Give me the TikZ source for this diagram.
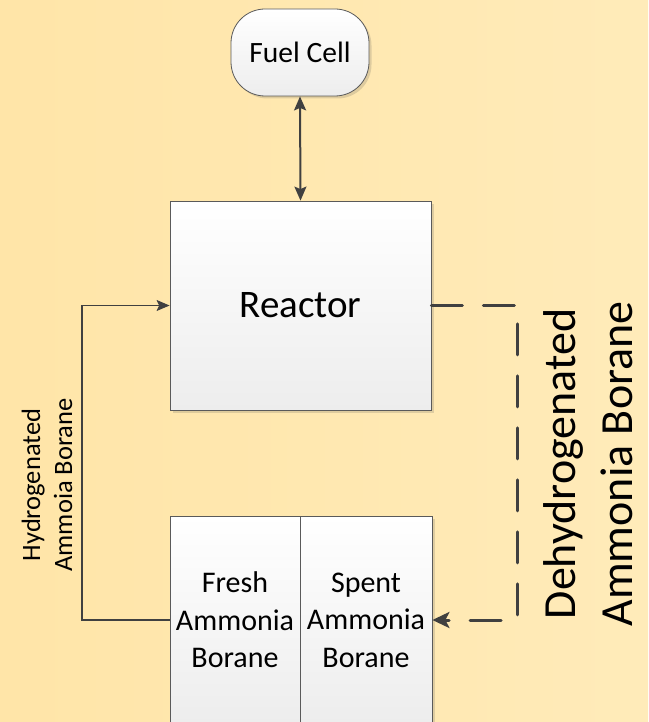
\documentclass[tikz,border=0pt]{standalone}
\usepackage{fontspec}
\setmainfont{Carlito}
\usetikzlibrary{arrows.meta,shadows}
\definecolor{bgA}{HTML}{FFE5A8}
\definecolor{bgB}{HTML}{FFEBB9}
\definecolor{edge}{HTML}{5A5A5A}
\definecolor{conn}{HTML}{404040}
\definecolor{boxlow}{HTML}{EDEDED}
\tikzset{
  blockbox/.style={draw=edge, line width=0.8pt, top color=white, bottom color=boxlow,
    inner sep=0pt, align=center,
    drop shadow={shadow xshift=2.5pt, shadow yshift=-2.5pt, opacity=0.18, fill=black!70}},
  thinconn/.style={draw=conn, line width=1.2pt, -{Stealth[length=13pt,width=11pt,inset=2.5pt]}},
  dblconn/.style={draw=conn, line width=2pt, {Stealth[length=14pt,width=12pt,inset=2.5pt]}-{Stealth[length=14pt,width=12pt,inset=2.5pt]}},
  dashconn/.style={draw=conn, line width=3pt, line cap=round, dash pattern=on 31pt off 21pt,
    -{Stealth[length=17pt,width=16pt,inset=4pt]}},
  sidelabel/.style={rotate=90, align=center, inner sep=0pt}
}
\begin{document}
\begin{tikzpicture}[x=1pt,y=-1pt]
\useasboundingbox (0,0) rectangle (648,722);
\shade[left color=bgA, right color=bgB] (0,0) rectangle (648,722);

\node[blockbox, minimum width=138pt, minimum height=87pt, rounded corners=34pt,
      font=\fontsize{29.5}{36}\selectfont] (fuel) at (300,52.5) {Fuel Cell};
\node[blockbox, minimum width=261pt, minimum height=209pt,
      font=\fontsize{39}{46}\selectfont] (reactor) at (300.5,305.5) {Reactor};
\node[blockbox, minimum width=130pt, minimum height=208pt,
      font=\fontsize{30}{37.5}\selectfont] (fresh) at (235,620) {Fresh\\Ammonia\\Borane};
\node[blockbox, minimum width=132pt, minimum height=208pt,
      font=\fontsize{30}{37.5}\selectfont] (spent) at (366,620) {Spent\\Ammonia\\Borane};

\coordinate (lc) at (82,305.5);
\coordinate (rc1) at (517,305.5);
\coordinate (rc2) at (517,620);

\draw[dblconn] (fuel.south) -- (reactor.north);
\draw[thinconn] (fresh.west) -| (lc) -- (reactor.west);
\draw[dashconn] (reactor.east) -- (rc1) -- (rc2) -- (spent.east);

\node[sidelabel, font=\fontsize{26.5}{32}\selectfont] (hlabel) at (47,485) {Hydrogenated\\Ammoia Borane};
\node[sidelabel, font=\fontsize{46}{57}\selectfont] (dlabel) at (588,464) {Dehydrogenated\\Ammonia Borane};
\end{tikzpicture}
\end{document}
